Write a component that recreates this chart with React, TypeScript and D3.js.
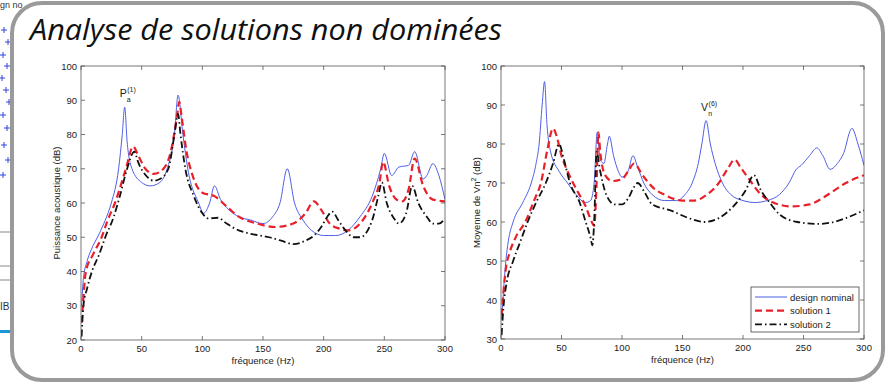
import * as d3 from "d3";

// [fréquence (Hz), niveau (dB)]
const puissanceNominal: [number, number][] = [
  [0.5, 30], [2, 38], [5, 43], [8, 46], [15, 51], [20, 55], [25, 60], [31, 70], [34, 80], [36, 88],
  [38, 78], [42, 70], [50, 66], [57, 65], [65, 66], [71, 70], [77, 80], [80, 91.5], [84, 80],
  [88, 70], [97, 60], [101, 57], [106, 60], [110, 65], [115, 61], [122, 58], [130, 56], [140, 55],
  [150, 54], [158, 56], [164, 60], [170, 70], [176, 60], [183, 55], [190, 52], [200, 50.5],
  [210, 50.5], [220, 52], [230, 56], [240, 62], [247, 70], [250, 74.5], [256, 68], [262, 70.5],
  [270, 71], [275, 75], [282, 67], [285, 68], [290, 71.5], [295, 68], [300, 61],
];
const puissanceSol1: [number, number][] = [
  [0.5, 25], [1.5, 30], [4, 40], [10, 45], [17, 50], [22, 55], [28, 60], [37, 70], [43, 76.5],
  [47, 74], [53, 70], [60, 68.5], [68, 70], [74, 75], [79, 85], [81, 89.5], [83, 85], [87, 75],
  [92, 68], [100, 63], [110, 62], [120, 59], [130, 56], [145, 54], [160, 53], [175, 54], [185, 57],
  [192, 60.5], [198, 58], [205, 54], [213, 52.5], [220, 52], [230, 54], [240, 60], [246, 66],
  [249, 72], [254, 65], [260, 61], [265, 60.5], [270, 64], [275, 73], [282, 65], [290, 61], [300, 60.5],
];
const puissanceSol2: [number, number][] = [
  [0.5, 21], [2, 30], [5, 35], [9, 40], [15, 45], [20, 50], [27, 56], [32, 62], [38, 70], [44, 75],
  [47, 72], [55, 67.5], [60, 66.5], [65, 67], [72, 70], [77, 80], [80, 86], [82, 80], [86, 70],
  [93, 62], [100, 57], [105, 55.5], [113, 55.7], [120, 54], [130, 52], [140, 51], [155, 50],
  [165, 49], [175, 48], [185, 49], [192, 50.5], [198, 53], [203, 56], [207, 57.5], [212, 55],
  [218, 52], [225, 50], [230, 50], [240, 55], [245, 62], [248, 66], [252, 60], [258, 55.5],
  [262, 54], [268, 57], [273, 65], [278, 60], [285, 56], [290, 54], [295, 54], [300, 55.5],
];

const vitesseNominal: [number, number][] = [
  [0.5, 35], [2, 42], [4, 50], [6, 55], [10, 60], [18, 65], [25, 70], [29, 75], [31.5, 80], [34, 90],
  [36, 96], [38, 85], [41, 78], [48, 73], [55, 70], [62, 67], [70, 65], [74, 65.5], [77, 70],
  [79.5, 83], [82, 76], [85, 75], [88, 80], [89.5, 82], [93, 77], [97, 73], [100, 71.5], [105, 73],
  [109, 77], [113, 74], [118, 70], [125, 67], [135, 65.5], [145, 65.5], [152, 67], [158, 70],
  [163, 75], [166, 80], [169.5, 86], [173, 80], [177, 75], [183, 70], [190, 67], [200, 65.5],
  [210, 65], [220, 65.5], [230, 67], [238, 70], [244, 73.5], [248, 74.5], [255, 77], [261, 79],
  [266, 77], [272, 73.5], [278, 75], [283, 77.5], [290, 84], [295, 80], [300, 74.5],
];
const vitesseSol1: [number, number][] = [
  [0.5, 36], [1.5, 40], [4, 48], [7, 52], [12, 56], [20, 60], [28, 66], [33, 70], [38, 78], [43, 84],
  [46, 82], [50, 77], [55, 73], [63, 68], [70, 64], [75, 60], [77, 59], [79, 70], [80.5, 83],
  [82, 78], [86, 72], [92, 70.5], [100, 71], [105, 73], [110, 75], [117, 72], [125, 69], [135, 67],
  [150, 65.5], [160, 65.5], [170, 67], [180, 70], [188, 74], [193, 76], [198, 74], [205, 71],
  [215, 67], [225, 65], [240, 64], [255, 64.5], [265, 66], [275, 68], [285, 70], [300, 72],
];
const vitesseSol2: [number, number][] = [
  [0.5, 31], [2, 38], [5, 45], [10, 50], [16, 55], [22, 60], [29, 65], [37, 70], [43, 75], [48, 80],
  [52, 76], [57, 70], [65, 65], [70, 60], [74, 56], [75.5, 54], [77, 60], [79, 78], [82, 73],
  [87, 67], [94, 64.5], [100, 64.5], [105, 66], [110, 69], [113, 70], [118, 68], [125, 64.5],
  [140, 63], [155, 61], [168, 60], [180, 61], [192, 64], [202, 68], [209, 72], [215, 68],
  [222, 65], [230, 62], [245, 60], [262, 59.5], [275, 60], [285, 61], [300, 63],
];

const xTicks = [0, 50, 100, 150, 200, 250, 300];
const leftYTicks = [20, 30, 40, 50, 60, 70, 80, 90, 100];
const rightYTicks = [30, 40, 50, 60, 70, 80, 90, 100];
const seriesNames = ["design nominal", "solution 1", "solution 2"];

// plus markers of the slide peeking out on the left
const bgPluses: [number, number][] = [
  [4, 30], [8, 42], [3, 55], [7, 66], [2, 78], [6, 90], [9, 102], [3, 115], [7, 128], [4, 145], [8, 160], [3, 175],
];

const STYLES = [
  { color: "#4f5fe6", width: 1, dash: "" },
  { color: "#e8202a", width: 2.2, dash: "7 4" },
  { color: "#111", width: 1.8, dash: "7 3 1.5 3" },
];

const FONT = "'Liberation Sans', Arial, sans-serif";

interface ChartProps {
  left: number;
  top: number;
  width: number;
  height: number;
  yDomain: [number, number];
  yTicks: number[];
  series: [number, number][][];
  yLabel: React.ReactNode;
  annotation: { f: number; v: number; main: string; sub: string; sup: string };
  legend?: boolean;
}

function Chart({ left, top, width, height, yDomain, yTicks, series, yLabel, annotation, legend }: ChartProps) {
  const x = d3.scaleLinear().domain([0, 300]).range([0, width]);
  const y = d3.scaleLinear().domain(yDomain).range([height, 0]);
  const line = d3
    .line<[number, number]>()
    .x((d) => x(d[0]))
    .y((d) => y(d[1]))
    .curve(d3.curveMonotoneX);

  const tick = 4;
  return (
    <g transform={`translate(${left},${top})`} fontFamily={FONT}>
      <rect width={width} height={height} fill="#fff" />
      <defs>
        <clipPath id={`clip-${left}`}>
          <rect width={width} height={height} />
        </clipPath>
      </defs>
      <g clipPath={`url(#clip-${left})`}>
        {series.map((s, i) => (
          <path
            key={i}
            d={line(s) ?? ""}
            fill="none"
            stroke={STYLES[i].color}
            strokeWidth={STYLES[i].width}
            strokeDasharray={STYLES[i].dash}
            strokeLinejoin="round"
          />
        ))}
      </g>
      <rect width={width} height={height} fill="none" stroke="#555" strokeWidth={0.8} />
      {xTicks.map((t) => (
        <g key={t}>
          <line x1={x(t)} x2={x(t)} y1={height} y2={height - tick} stroke="#555" strokeWidth={0.8} />
          <line x1={x(t)} x2={x(t)} y1={0} y2={tick} stroke="#555" strokeWidth={0.8} />
          <text x={x(t)} y={height + 12} fontSize={9.5} textAnchor="middle" fill="#222">
            {t}
          </text>
        </g>
      ))}
      {yTicks.map((t) => (
        <g key={t}>
          <line x1={0} x2={tick} y1={y(t)} y2={y(t)} stroke="#555" strokeWidth={0.8} />
          <line x1={width} x2={width - tick} y1={y(t)} y2={y(t)} stroke="#555" strokeWidth={0.8} />
          <text x={-4} y={y(t) + 3.5} fontSize={9.5} textAnchor="end" fill="#222">
            {t}
          </text>
        </g>
      ))}
      <text x={width / 2} y={height + 24} fontSize={9.5} textAnchor="middle" fill="#222">
        fréquence (Hz)
      </text>
      <text
        transform={`translate(-21,${height / 2}) rotate(-90)`}
        fontSize={9.5}
        textAnchor="middle"
        fill="#222"
      >
        {yLabel}
      </text>
      <text x={x(annotation.f) - 5} y={y(annotation.v)} fontSize={10.5} fill="#222">
        {annotation.main}
        <tspan fontSize={7} dx={0.5} dy={-5}>{annotation.sup}</tspan>
        <tspan fontSize={7} dx={-9} dy={10}>{annotation.sub}</tspan>
      </text>
      {legend && (
        <g transform={`translate(${width - 113},${height - 52})`}>
          <rect width={108} height={45} fill="#fff" stroke="#444" strokeWidth={0.8} />
          {seriesNames.map((name, i) => (
            <g key={name} transform={`translate(0,${10 + i * 13.7})`}>
              <line
                x1={4}
                x2={36}
                y1={0}
                y2={0}
                stroke={STYLES[i].color}
                strokeWidth={STYLES[i].width}
                strokeDasharray={STYLES[i].dash}
              />
              <text x={39} y={3.5} fontSize={9.5} fill="#222">
                {name}
              </text>
            </g>
          ))}
        </g>
      )}
    </g>
  );
}

export default function App() {
  return (
    <svg width={888} height={387} style={{ position: "absolute", left: 0, top: 0, background: "#fff" }}>
      {/* slide behind, on the left */}
      <text x={0} y={8} fontSize={9} fontFamily={FONT} fill="#333">gn no</text>
      {bgPluses.map(([px, py], i) => (
        <path key={i} d={`M${px - 3},${py}h6M${px},${py - 3}v6`} stroke="#3344dd" strokeWidth={1} />
      ))}
      <line x1={0} x2={11} y1={232} y2={232} stroke="#888" />
      <line x1={0} x2={11} y1={266} y2={266} stroke="#888" />
      <line x1={0} x2={11} y1={280} y2={280} stroke="#888" />
      <text x={0} y={310} fontSize={10} fontFamily={FONT} fill="#333">IB</text>
      <rect x={0} y={330} width={11} height={3} fill="#1a98d5" />

      <rect x={12} y={3} width={871} height={377} rx={30} fill="#fff" stroke="#9a9a9a" strokeWidth={4} />
      <text
        x={30}
        y={40}
        fontSize={30}
        fontStyle="italic"
        fontFamily="'Open Sans', sans-serif"
        fill="#111"
        textLength={472}
        lengthAdjust="spacingAndGlyphs"
      >
        Analyse de solutions non dominées
      </text>

      <Chart
        left={81}
        top={66}
        width={364}
        height={274}
        yDomain={[20, 100]}
        yTicks={leftYTicks}
        series={[puissanceNominal, puissanceSol1, puissanceSol2]}
        yLabel="Puissance acoustique (dB)"
        annotation={{ f: 36, v: 91, main: "P", sub: "a", sup: "(1)" }}
      />
      <Chart
        left={501}
        top={66}
        width={363}
        height={273}
        yDomain={[30, 100]}
        yTicks={rightYTicks}
        series={[vitesseNominal, vitesseSol1, vitesseSol2]}
        yLabel={
          <>
            Moyenne de Vn<tspan fontSize={7} dy={-4}>2</tspan>
            <tspan dy={4}> (dB)</tspan>
          </>
        }
        annotation={{ f: 169.5, v: 88.5, main: "V", sub: "n", sup: "(6)" }}
        legend
      />
    </svg>
  );
}
